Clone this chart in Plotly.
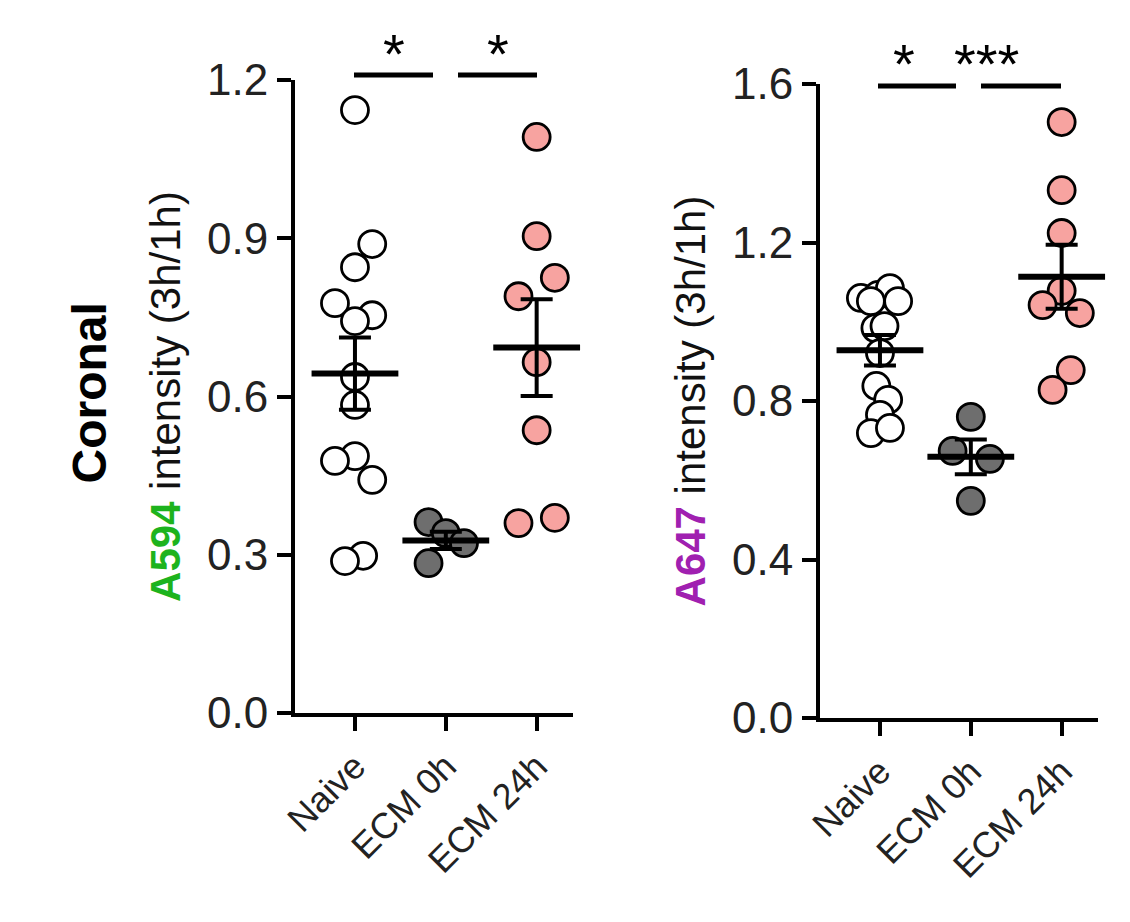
import numpy as np
import plotly.graph_objects as go

groups = ["Naive", "ECM 0h", "ECM 24h"]

# A594 panel values
a594_naive = [1.143, 0.889, 0.845, 0.777, 0.754, 0.743, 0.637, 0.584, 0.487, 0.478, 0.442, 0.298, 0.288]
a594_naive_jit = [0, 0.19, 0, -0.22, 0.19, 0, 0, 0, 0, -0.22, 0.19, 0.09, -0.11]
a594_ecm0 = [0.362, 0.341, 0.322, 0.284]
a594_ecm0_jit = [-0.19, 0, 0.2, -0.19]
a594_ecm24 = [1.092, 0.904, 0.825, 0.790, 0.665, 0.536, 0.360, 0.370]
a594_ecm24_jit = [0, 0, 0.2, -0.2, 0, 0, -0.2, 0.2]

# A647 panel values
a647_naive = [1.060, 1.068, 1.085, 1.052, 1.052, 0.984, 0.989, 0.921, 0.838, 0.803, 0.765, 0.719, 0.732]
a647_naive_jit = [-0.21, -0.02, 0.11, 0.2, -0.1, -0.05, 0.05, 0, -0.04, 0.09, 0, -0.1, 0.11]
a647_ecm0 = [0.760, 0.674, 0.654, 0.548]
a647_ecm0_jit = [0, -0.2, 0.21, 0]
a647_ecm24 = [1.504, 1.332, 1.224, 1.078, 1.042, 1.022, 0.878, 0.828]
a647_ecm24_jit = [0, 0, 0, 0, -0.21, 0.2, 0.1, -0.1]

fills = ["white", "#6e6e6e", "#f7a3a0"]

W, H = 1130, 922
fig = go.Figure()

panels = [
    ("x", "y", [a594_naive, a594_ecm0, a594_ecm24], [a594_naive_jit, a594_ecm0_jit, a594_ecm24_jit]),
    ("x2", "y2", [a647_naive, a647_ecm0, a647_ecm24], [a647_naive_jit, a647_ecm0_jit, a647_ecm24_jit]),
]

for xa, ya, sets, jits in panels:
    for i, (vals, jit) in enumerate(zip(sets, jits)):
        v = np.array(vals)
        fig.add_trace(go.Scatter(
            x=[i + j for j in jit], y=vals, xaxis=xa, yaxis=ya, mode="markers",
            marker=dict(size=27, color=fills[i], line=dict(color="black", width=2.8)),
            showlegend=False, cliponaxis=False))
        sem = v.std(ddof=1) / np.sqrt(len(v))
        fig.add_trace(go.Scatter(
            x=[i], y=[v.mean()], xaxis=xa, yaxis=ya, mode="markers",
            marker=dict(symbol="line-ew", size=62, line=dict(color="black", width=6)),
            error_y=dict(type="data", array=[sem], color="black", thickness=4, width=16),
            showlegend=False, cliponaxis=False))

# significance bars (paper coordinates, above the plot area)
sig = [(346, 425, 67, 45, "*"), (450, 529, 67, 45, "*"),
       (870, 948, 78, 55, "*"), (973, 1053, 78, 55, "***")]
for x0, x1, yb, ys, s in sig:
    fig.add_shape(type="line", xref="paper", yref="paper", x0=x0 / W, x1=x1 / W,
                  y0=(H - yb) / H, y1=(H - yb) / H, line=dict(color="black", width=5))
    fig.add_annotation(xref="paper", yref="paper", x=(x0 + x1) / 2 / W, y=(H - ys) / H, text=s,
                       showarrow=False, yanchor="middle",
                       font=dict(size=56, color="black", family="Arial"))

ax = dict(showline=True, linewidth=4, linecolor="black", ticks="outside", ticklen=14, tickwidth=4,
          tickcolor="black", showgrid=False, zeroline=False, automargin=False,
          tickfont=dict(size=44, color="#222", family="Arial"))

fig.update_layout(
    width=W, height=H, margin=dict(l=0, r=0, t=0, b=0),
    plot_bgcolor="white", paper_bgcolor="white", font=dict(family="Arial"),
    xaxis=dict(ax, domain=[287 / W, 565 / W], range=[-0.66, 2.4], tickvals=[0, 1, 2], ticktext=groups,
               tickangle=-45, tickfont=dict(size=36, color="#222"), anchor="y"),
    yaxis=dict(ax, domain=[(H - 705) / H, (H - 72) / H], range=[0, 1.2], tickvals=[0, 0.3, 0.6, 0.9, 1.2],
               tickformat=".1f", anchor="x",
               title=dict(text="<b><span style='color:#1db31d'>A594</span></b> intensity (3h/1h)",
                          font=dict(size=42, color="#111"), standoff=14)),
    xaxis2=dict(ax, domain=[812 / W, 1090 / W], range=[-0.66, 2.4], tickvals=[0, 1, 2], ticktext=groups,
                tickangle=-45, tickfont=dict(size=36, color="#222"), anchor="y2"),
    yaxis2=dict(ax, domain=[(H - 710) / H, (H - 76) / H], range=[0, 1.6], tickvals=[0, 0.4, 0.8, 1.2, 1.6],
                tickformat=".1f", anchor="x2",
                title=dict(text="<b><span style='color:#a020b0'>A647</span></b> intensity (3h/1h)",
                           font=dict(size=42, color="#111"), standoff=14)),
)

fig.add_annotation(xref="paper", yref="paper", x=52 / W, y=(H - 385) / H, text="<b>Coronal</b>",
                   textangle=-90, showarrow=False, font=dict(size=48, color="black"))

fig.write_html("out.html")
